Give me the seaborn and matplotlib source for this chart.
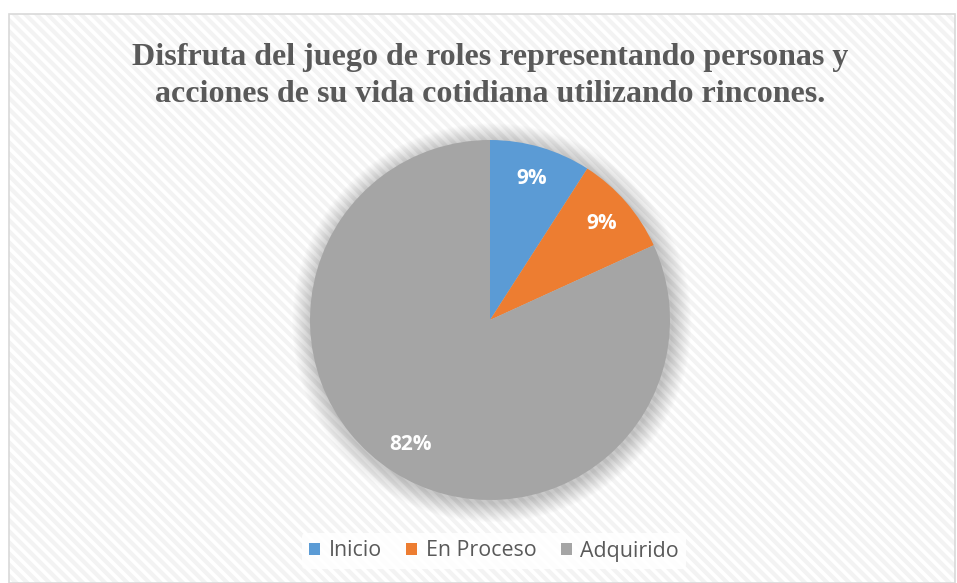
import matplotlib
matplotlib.use("Agg")
import matplotlib.pyplot as plt
import seaborn as sns
from matplotlib.patches import Rectangle, Circle

categories = ["Inicio", "En Proceso", "Adquirido"]
values = [1, 1, 9]
colors = ["#5B9BD5", "#ED7D31", "#A5A5A5"]
title = "Disfruta del juego de roles representando personas y\nacciones de su vida cotidiana utilizando rincones."

sns.set_theme(style="white")
plt.rcParams["font.family"] = ["Open Sans", "DejaVu Sans"]
plt.rcParams["hatch.linewidth"] = 3.0

W, H = 957, 583
fig = plt.figure(figsize=(W / 100, H / 100), dpi=100)
fig.patch.set_facecolor("white")

# chart area background with diagonal stripes
x0, y0 = 9 / W, 0.0
w0, h0 = (955 - 9) / W, 1 - 14 / H
bg = Rectangle((x0, y0), w0, h0, transform=fig.transFigure, facecolor="white",
               edgecolor="#f3f3f3", hatch="\\\\\\", linewidth=0, zorder=-3)
fig.patches.append(bg)
border = Rectangle((x0, y0), w0, h0, transform=fig.transFigure, facecolor="none",
                   edgecolor="#d9d9d9", linewidth=1.2, zorder=-2)
fig.patches.append(border)

fig.text(490 / W, 1 - 76 / H, title, ha="center", va="center",
         fontsize=23, fontweight="bold", color="#595959",
         family=["Liberation Serif", "DejaVu Serif"], linespacing=1.32, zorder=5)

cx, cy, r = 490, 320, 180
ax = fig.add_axes([(cx - r) / W, (H - cy - r) / H, 2 * r / W, 2 * r / H])
ax.set_zorder(2)
ax.patch.set_alpha(0)

# soft shadow
for i in range(18):
    ax.add_patch(Circle((0.01, -0.015), 1.0 + 0.006 * (i + 1), facecolor="black",
                        alpha=0.012, edgecolor="none", zorder=0, clip_on=False))

wedges, texts, autotexts = ax.pie(
    values, colors=colors, startangle=90, counterclock=False, radius=1.0,
    autopct=lambda p: f"{p:.0f}%", pctdistance=0.82,
    wedgeprops=dict(linewidth=0, edgecolor="white"),
    textprops=dict(color="white", fontsize=15, fontweight="bold"))
for wd in wedges:
    wd.set_zorder(2)
for t in autotexts:
    t.set_zorder(3)
ax.set_xlim(-1.0, 1.0)
ax.set_ylim(-1.0, 1.0)
ax.set_aspect("equal")
ax.axis("off")

leg = fig.legend(wedges, categories, loc="center", bbox_to_anchor=(494 / W, 1 - 551 / H),
                 ncol=3, frameon=True, fontsize=15.4, handlelength=0.52, handleheight=0.52,
                 handletextpad=0.38, columnspacing=1.15, borderpad=0.35)
leg.set_zorder(6)
leg.get_frame().set_facecolor("white")
leg.get_frame().set_edgecolor("none")
leg.get_frame().set_alpha(0.85)
for t in leg.get_texts():
    t.set_color("#595959")

fig.savefig("out.png", dpi=100)
